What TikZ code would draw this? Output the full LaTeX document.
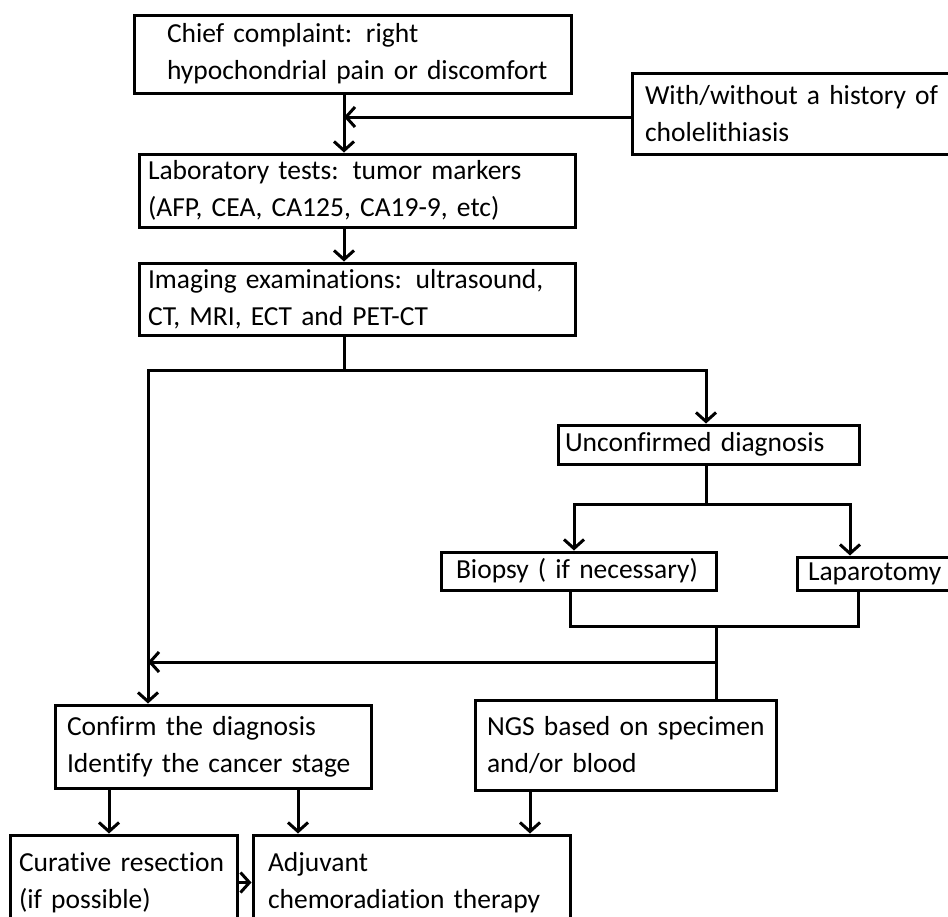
\documentclass[tikz,border=0pt]{standalone}
\usepackage{fontspec}
\setmainfont{Carlito}[Ligatures={NoCommon}]
\usetikzlibrary{arrows.meta}

\begin{document}
\begin{tikzpicture}[x=1pt,y=-1pt,
    box/.style={draw, line width=3pt, align=left, inner xsep=3pt, font=\fontsize{27.5}{37}\selectfont},
    lead/.style={execute at begin node={\leftskip=#1pt}},
    line/.style={line width=3pt},
    arr/.style={line width=3pt, -{Straight Barb[length=9pt,width=20pt]}}]
            \useasboundingbox (0,0) rectangle (948,916);
            \clip (0,0) rectangle (948,916);
            % boxes
            \node[box, lead=30, text width=431pt, minimum height=78pt] (chief) at (352.5,54) {Chief complaint: right\\hypochondrial pain or discomfort};
            \node[box, lead=10, text width=327pt, minimum height=81pt] (hist) at (798.5,113.5) {With/without a history of\\cholelithiasis};
            \node[box, lead=6, text width=430pt, minimum height=73pt] (lab) at (357,190.5) {Laboratory tests: tumor markers\\(AFP, CEA, CA125, CA19-9, etc)};
            \node[box, lead=6, text width=430pt, minimum height=72pt] (img) at (357,299) {Imaging examinations: ultrasound,\\CT, MRI, ECT and PET-CT};
            \node[box, lead=4, text width=295pt, minimum height=39pt, inner ysep=0pt] (unc) at (708.5,444.5) {Unconfirmed diagnosis};
            \node[box, lead=12, text width=269pt, minimum height=38pt, inner ysep=0pt] (bio) at (578.5,571) {Biopsy ( if necessary)};
            \node[box, lead=8, text width=174pt, minimum height=33pt, inner ysep=0pt] (lap) at (887,573.5) {Laparotomy};
            \node[box, lead=9, text width=310pt, minimum height=83pt] (conf) at (213,746.5) {Confirm the diagnosis\\Identify the cancer stage};
            \node[box, lead=9, text width=295pt, minimum height=90pt] (ngs) at (625.5,745) {NGS based on specimen\\and/or blood};
            \node[box, lead=6, text width=221pt, minimum height=95pt] (cur) at (123.5,882.5) {Curative resection\\(if possible)};
            \node[box, lead=12, text width=311pt, minimum height=95pt] (adj) at (411.5,882.5) {Adjuvant\\chemoradiation therapy};
            % junctions
            \coordinate (c1) at (344,117);
            \coordinate (lt) at (148,370);
            \coordinate (rt) at (706,370);
            \coordinate (bl) at (574,504);
            \coordinate (br) at (850,504);
            \coordinate (ml) at (570,626);
            \coordinate (mr) at (858,626);
            \coordinate (mm) at (716,626);
            \coordinate (jn) at (716,662);
            \coordinate (d1) at (109,835);
            \coordinate (d2) at (298,835);
            \coordinate (d3) at (530,835);
            % connectors
            \draw [arr] (chief.south -| c1) -- (lab.north -| c1);
            \draw [arr] (hist.west |- c1) -- (c1);
            \draw [arr] (lab.south -| c1) -- (img.north -| c1);
            \draw [arr] (img.south -| c1) |- (lt) -- (conf.north -| lt);
            \draw [arr] (img.south -| c1) |- (rt) -- (unc.north -| rt);
            \draw [line] (unc.south -| rt) -- (rt |- bl);
            \draw [arr] (rt |- bl) -| (bio.north -| bl);
            \draw [arr] (rt |- bl) -| (lap.north -| br);
            \draw [line] (bio.south -| ml) -- (ml) -- (mr) -- (lap.south -| mr);
            \draw [line] (mm) -- (ngs.north -| mm);
            \draw [arr] (jn) -- (jn -| lt);
            \draw [arr] (conf.south -| d1) -- (cur.north -| d1);
            \draw [arr] (conf.south -| d2) -- (adj.north -| d2);
            \draw [arr] (ngs.south -| d3) -- (adj.north -| d3);
            \draw [arr] (cur.east) -- (adj.west);
        \end{tikzpicture}
\end{document}
